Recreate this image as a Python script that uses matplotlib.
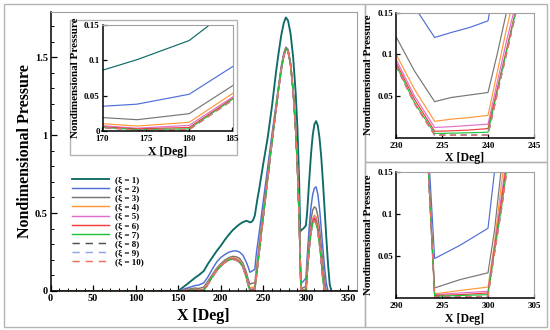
import matplotlib
matplotlib.use("Agg")
import matplotlib.pyplot as plt
from matplotlib.patches import Rectangle
from matplotlib.ticker import MultipleLocator, FixedLocator, FixedFormatter

plt.rcParams['font.family'] = ['Liberation Serif', 'DejaVu Serif']
plt.rcParams['font.weight'] = 'bold'

# ---------------- data ----------------
X = [0, 150, 160, 170, 174, 180, 185, 190, 195, 200,
     205, 210, 214, 218, 222, 226, 230, 232, 234.2, 236,
     238, 240, 241, 242, 243, 245, 250, 255, 260, 265,
     268, 271, 274, 276.5, 279, 282, 285, 288, 290, 292,
     293.3, 294.2, 297, 300, 300.7, 301.5, 302, 304, 306, 308,
     310, 312, 314, 316, 318, 320, 322, 324, 326, 328,
     330, 360]

xi1 = [0, 0, 0.042, 0.086, 0.101, 0.128, 0.175, 0.215, 0.255, 0.29,
       0.33, 0.365, 0.39, 0.41, 0.428, 0.442, 0.45, 0.447, 0.44, 0.443,
       0.455, 0.485, 0.52, 0.555, 0.59, 0.65, 0.82, 0.98, 1.18, 1.41,
       1.53, 1.64, 1.72, 1.755, 1.735, 1.65, 1.50, 1.27, 1.05, 0.72,
       0.38, 0.39, 0.40, 0.42, 0.46, 0.51, 0.55, 0.72, 0.88, 1.0,
       1.07, 1.09, 1.06, 0.98, 0.86, 0.70, 0.52, 0.34, 0.17, 0.04,
       0, 0]
xi2 = [0, 0, 0.018, 0.035, 0.038, 0.052, 0.091, 0.14, 0.185, 0.215,
       0.235, 0.25, 0.256, 0.258, 0.25, 0.23, 0.185, 0.157, 0.12, 0.126,
       0.132, 0.14, 0.2, 0.25, 0.29, 0.37, 0.58, 0.79, 1.0, 1.2,
       1.32, 1.44, 1.525, 1.565, 1.55, 1.46, 1.29, 1.04, 0.81, 0.49,
       0.22, 0.047, 0.063, 0.083, 0.15, 0.22, 0.26, 0.42, 0.54, 0.62,
       0.66, 0.668, 0.62, 0.53, 0.40, 0.27, 0.15, 0.05, 0, 0,
       0, 0]
xi3 = [0, 0, 0.01, 0.019, 0.016, 0.0245, 0.064, 0.105, 0.145, 0.175,
       0.2, 0.215, 0.222, 0.22, 0.21, 0.18, 0.121, 0.08, 0.043, 0.048,
       0.051, 0.054, 0.1, 0.15, 0.198, 0.29, 0.52, 0.745, 0.97, 1.18,
       1.31, 1.43, 1.515, 1.56, 1.545, 1.455, 1.285, 1.035, 0.805, 0.485,
       0.2, 0.012, 0.022, 0.03, 0.08, 0.16, 0.2, 0.35, 0.46, 0.52,
       0.54, 0.53, 0.48, 0.4, 0.29, 0.17, 0.06, 0, 0, 0,
       0, 0]
xi4 = [0, 0, 0.006, 0.0104, 0.007, 0.0123, 0.053, 0.097, 0.137, 0.167,
       0.192, 0.207, 0.214, 0.21, 0.196, 0.166, 0.1, 0.058, 0.0194, 0.022,
       0.024, 0.0266, 0.078, 0.13, 0.175, 0.27, 0.5, 0.73, 0.96, 1.175,
       1.305, 1.425, 1.512, 1.558, 1.543, 1.453, 1.283, 1.033, 0.803, 0.483,
       0.2, 0.005, 0.009, 0.013, 0.065, 0.14, 0.18, 0.31, 0.41, 0.465,
       0.487, 0.475, 0.42, 0.335, 0.225, 0.11, 0.015, 0, 0, 0,
       0, 0]
xi5 = [0, 0, 0.005, 0.0075, 0.004, 0.008, 0.048, 0.093, 0.133, 0.163,
       0.188, 0.203, 0.209, 0.205, 0.19, 0.16, 0.094, 0.05, 0.012, 0.013,
       0.0145, 0.016, 0.066, 0.115, 0.16, 0.255, 0.49, 0.72, 0.955, 1.172,
       1.302, 1.422, 1.511, 1.557, 1.542, 1.452, 1.282, 1.032, 0.802, 0.482,
       0.2, 0.004, 0.006, 0.008, 0.06, 0.125, 0.165, 0.295, 0.4, 0.455,
       0.475, 0.46, 0.405, 0.32, 0.21, 0.095, 0.01, 0, 0, 0,
       0, 0]
xi6 = [0, 0, 0.004, 0.006, 0.003, 0.005, 0.046, 0.091, 0.131, 0.161,
       0.186, 0.201, 0.206, 0.202, 0.187, 0.157, 0.09, 0.046, 0.0075, 0.008,
       0.009, 0.0107, 0.058, 0.105, 0.152, 0.248, 0.483, 0.717, 0.952, 1.171,
       1.301, 1.421, 1.511, 1.556, 1.541, 1.451, 1.281, 1.031, 0.801, 0.481,
       0.2, 0.003, 0.004, 0.006, 0.058, 0.118, 0.158, 0.288, 0.39, 0.445,
       0.465, 0.45, 0.395, 0.31, 0.2, 0.085, 0.005, 0, 0, 0,
       0, 0]
xi7 = [0, 0, 0.003, 0.005, 0.002, 0.003, 0.045, 0.09, 0.13, 0.16,
       0.185, 0.2, 0.205, 0.2, 0.185, 0.155, 0.087, 0.042, 0.0048, 0.0052,
       0.0057, 0.0063, 0.055, 0.103, 0.15, 0.245, 0.48, 0.715, 0.95, 1.17,
       1.3, 1.42, 1.51, 1.555, 1.54, 1.45, 1.28, 1.03, 0.8, 0.48,
       0.2, 0.002, 0.003, 0.004, 0.055, 0.11, 0.15, 0.28, 0.38, 0.435,
       0.455, 0.44, 0.385, 0.3, 0.19, 0.075, 0, 0, 0, 0,
       0, 0]
xi8 = [0, 0, 0.003, 0.005, 0.0015, 0.002, 0.044, 0.089, 0.129, 0.159,
       0.184, 0.199, 0.204, 0.199, 0.184, 0.154, 0.086, 0.041, 0.003, 0.003,
       0.003, 0.003, 0.052, 0.1, 0.148, 0.243, 0.478, 0.713, 0.948, 1.168,
       1.298, 1.418, 1.508, 1.553, 1.538, 1.448, 1.278, 1.028, 0.798, 0.478,
       0.2, 0.001, 0.0015, 0.002, 0.053, 0.108, 0.148, 0.278, 0.378, 0.432,
       0.452, 0.437, 0.382, 0.297, 0.187, 0.072, 0, 0, 0, 0,
       0, 0]
xi9 = [0, 0, 0.003, 0.0048, 0.0014, 0.0019, 0.0438, 0.0888, 0.1288, 0.1588,
       0.1838, 0.1988, 0.2038, 0.1988, 0.1838, 0.1538, 0.0858, 0.0408, 0.0028, 0.0028,
       0.0029, 0.003, 0.052, 0.1, 0.148, 0.243, 0.478, 0.713, 0.948, 1.168,
       1.298, 1.418, 1.508, 1.553, 1.538, 1.448, 1.278, 1.028, 0.798, 0.478,
       0.2, 0.001, 0.0014, 0.0019, 0.053, 0.108, 0.148, 0.278, 0.378, 0.432,
       0.451, 0.436, 0.381, 0.296, 0.186, 0.071, 0, 0, 0, 0,
       0, 0]
xi10 = [0, 0, 0.003, 0.0047, 0.0013, 0.0018, 0.0437, 0.0887, 0.1287, 0.1587,
        0.1837, 0.1987, 0.2037, 0.1987, 0.1837, 0.1537, 0.0857, 0.0407, 0.0027, 0.0027,
        0.0028, 0.0029, 0.052, 0.1, 0.148, 0.243, 0.478, 0.713, 0.948, 1.168,
        1.298, 1.418, 1.508, 1.553, 1.538, 1.448, 1.278, 1.028, 0.798, 0.478,
        0.2, 0.001, 0.0013, 0.0018, 0.053, 0.108, 0.148, 0.278, 0.378, 0.432,
        0.45, 0.435, 0.38, 0.295, 0.185, 0.07, 0, 0, 0, 0,
        0, 0]

series = [xi1, xi2, xi3, xi4, xi5, xi6, xi7, xi8, xi9, xi10]
labels = ['(ξ = 1)', '(ξ = 2)', '(ξ = 3)', '(ξ = 4)', '(ξ = 5)',
          '(ξ = 6)', '(ξ = 7)', '(ξ = 8)', '(ξ = 9)', '(ξ = 10)']
colors = ['#0e6b66', '#4f6fd6', '#767676', '#ff9838', '#e070cc',
          '#f23c3c', '#1fc43c', '#505050', '#8ea6ea', '#f2705e']
styles = ['-'] * 7 + [(0, (5, 4))] * 3

main_xticks = [0, 50, 100, 150, 200, 250, 300, 350]
main_yticks = [0, 0.5, 1, 1.5]
main_ytick_labels = ['0', '0.5', '1', '1.5']

# ---------------- figure ----------------
W, H = 550, 330
fig = plt.figure(figsize=(5.5, 3.3), dpi=100)
fig.patch.set_facecolor('white')


def fx(px):
    return px / W


def fy(py):
    return 1 - py / H


# panel borders
border = '#b4b4b4'
for (x0, y0, x1, y1) in [(4, 4, 365, 327), (365, 4, 547, 162), (365, 162, 547, 327)]:
    fig.patches.append(Rectangle((fx(x0), fy(y1)), fx(x1) - fx(x0), fy(y0) - fy(y1),
                                 transform=fig.transFigure, fill=False,
                                 edgecolor=border, lw=1.0, zorder=0.5))


def style_axes(ax, lsize):
    for s in ['left', 'bottom']:
        ax.spines[s].set_color('black')
        ax.spines[s].set_linewidth(1.1)
    for s in ['top', 'right']:
        ax.spines[s].set_color('#a0a0a0')
        ax.spines[s].set_linewidth(0.8)
    ax.tick_params(which='both', direction='in', top=False, right=False,
                   labelsize=lsize, pad=2)
    ax.tick_params(which='major', length=4, width=0.9)
    ax.tick_params(which='minor', length=2, width=0.7)
    for lab in ax.get_xticklabels() + ax.get_yticklabels():
        lab.set_fontweight('bold')


# main axes
ax = fig.add_axes([fx(50.5), fy(291), fx(357) - fx(50.5), fy(12) - fy(291)], zorder=0)
for ys, lab, c, ls in zip(series, labels, colors, styles):
    lw = 1.35 if lab == '(ξ = 1)' else 1.05
    ax.plot(X, ys, color=c, ls=ls, lw=lw, label=lab)
ax.set_xlim(0, 360)
ax.set_ylim(0, 1.79)
ax.xaxis.set_major_locator(FixedLocator(main_xticks))
ax.xaxis.set_minor_locator(MultipleLocator(10))
ax.yaxis.set_major_locator(FixedLocator(main_yticks))
ax.yaxis.set_major_formatter(FixedFormatter(main_ytick_labels))
ax.yaxis.set_minor_locator(MultipleLocator(0.1))
style_axes(ax, 7.5)
ax.set_xlabel('X [Deg]', fontsize=11.5, fontweight='bold', labelpad=4)
ax.set_ylabel('Nondimensional Pressure', fontsize=11.5, fontweight='bold', labelpad=1)

leg = ax.legend(loc='upper left', bbox_to_anchor=(fx(72), fy(176)),
                bbox_transform=fig.transFigure, frameon=False, fontsize=6.5,
                handlelength=4.1, handletextpad=0.65, labelspacing=0.085,
                borderpad=0, borderaxespad=0)
for t in leg.get_texts():
    t.set_fontweight('bold')

# inset box in main panel
fig.patches.append(Rectangle((fx(70), fy(155)), fx(237) - fx(70), fy(20) - fy(155),
                             transform=fig.transFigure, facecolor='white',
                             edgecolor=border, lw=1.0, zorder=1))


def zoom_axes(rect, xlim, xticks, yticks, ytlabels):
    a = fig.add_axes(rect, zorder=2)
    for ys, c, ls in zip(series, colors, styles):
        a.plot(X, ys, color=c, ls=ls, lw=0.85)
    a.set_xlim(*xlim)
    a.set_ylim(0, 0.15)
    a.xaxis.set_major_locator(FixedLocator(xticks))
    a.xaxis.set_major_formatter(FixedFormatter([str(v) for v in xticks]))
    a.yaxis.set_major_locator(FixedLocator(yticks))
    a.yaxis.set_major_formatter(FixedFormatter(ytlabels))
    style_axes(a, 6.5)
    a.tick_params(which='major', length=3)
    a.tick_params(axis='x', pad=3)
    a.set_xlabel('X [Deg]', fontsize=8.5, fontweight='bold', labelpad=2)
    a.set_ylabel('Nondimensional Pressure', fontsize=8, fontweight='bold', labelpad=3)
    return a


zoom_axes([fx(102.5), fy(131), fx(232.5) - fx(102.5), fy(25) - fy(131)],
          (170, 185), [170, 175, 180, 185], [0, 0.05, 0.1, 0.15],
          ['0', '0.05', '0.1', '0.15'])
zoom_axes([fx(396), fy(137.5), fx(534) - fx(396), fy(12.5) - fy(137.5)],
          (230, 245), [230, 235, 240, 245], [0.05, 0.1, 0.15],
          ['0.05', '0.1', '0.15'])
zoom_axes([fx(396), fy(298), fx(534) - fx(396), fy(172) - fy(298)],
          (290, 305), [290, 295, 300, 305], [0.05, 0.1, 0.15],
          ['0.05', '0.1', '0.15'])

fig.savefig('out.png', dpi=100)
